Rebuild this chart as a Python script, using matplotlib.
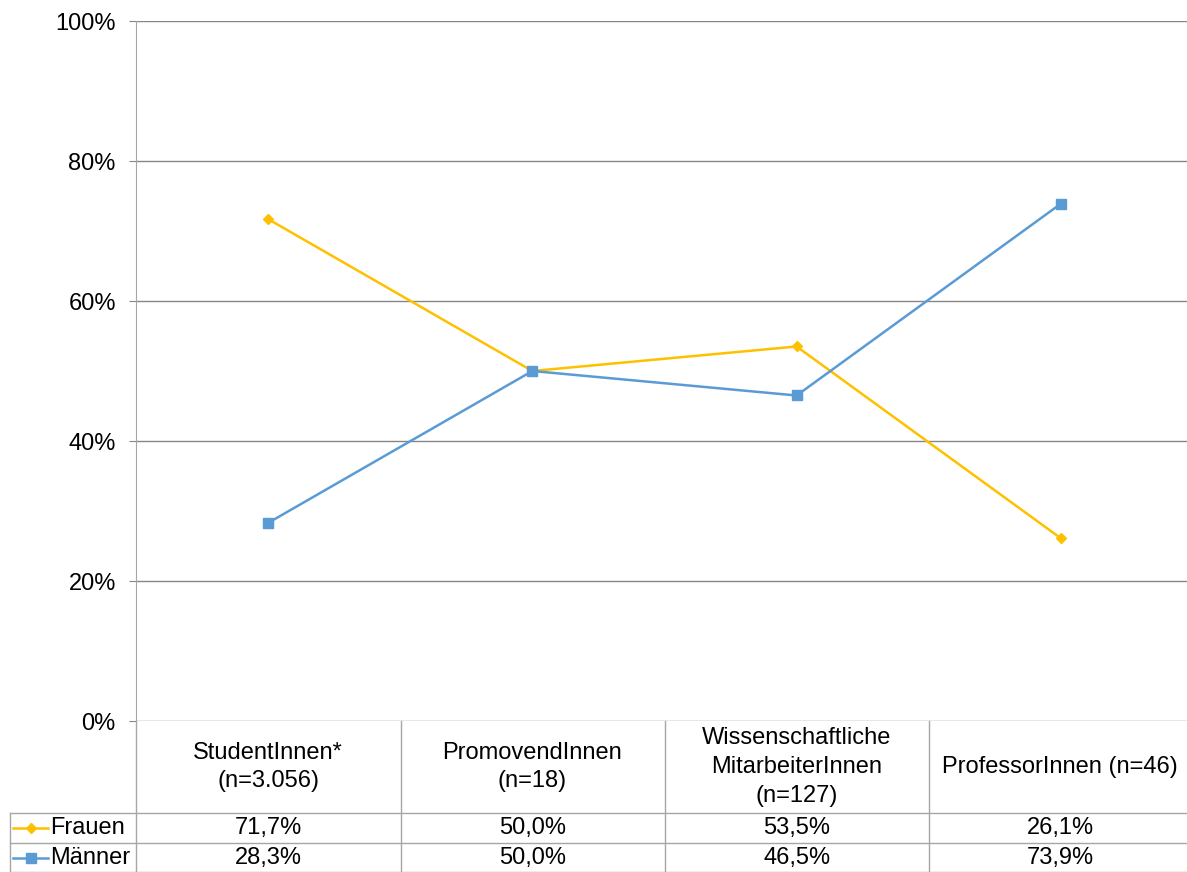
import matplotlib.pyplot as plt
from matplotlib.lines import Line2D

plt.rcParams['font.family'] = ['Liberation Sans', 'DejaVu Sans']

categories = ["StudentInnen*\n(n=3.056)", "PromovendInnen\n(n=18)",
              "Wissenschaftliche\nMitarbeiterInnen\n(n=127)", "ProfessorInnen (n=46)"]
frauen = [71.7, 50.0, 53.5, 26.1]
maenner = [28.3, 50.0, 46.5, 73.9]
yticks = [0, 20, 40, 60, 80, 100]

W, H = 1187, 872
FS = 17
fig = plt.figure(figsize=(W / 100, H / 100), dpi=100)
# plot area runs slightly past the right edge of the canvas
ax = fig.add_axes([136 / W, (H - 721) / H, 1057 / W, 700 / H])

gold = "#FFC000"
blue = "#5B9BD5"
grid_c = "#868686"
line_c = "#A6A6A6"

x = list(range(len(categories)))
ax.plot(x, frauen, color=gold, lw=1.8, marker="D", ms=5, zorder=3)
ax.plot(x, maenner, color=blue, lw=1.8, marker="s", ms=7, zorder=3)

ax.set_xlim(-0.5, len(categories) - 0.5)
ax.set_ylim(0, 100)
ax.set_yticks(yticks)
ax.set_yticklabels([f"{v}%" for v in yticks], fontsize=FS)
ax.yaxis.grid(True, color=grid_c, lw=1)
ax.set_axisbelow(True)
ax.set_xticks([])
for s in ["top", "right", "bottom"]:
    ax.spines[s].set_visible(False)
ax.spines["left"].set_color(line_c)
ax.tick_params(axis="y", length=5, color=grid_c, pad=9.5)

# data table below the plot
def fy(py):
    return (H - py) / H

def fx(px):
    return px / W

lines = []
for px in [136, 401, 665, 929]:
    lines.append(Line2D([fx(px), fx(px)], [fy(721), fy(872)], color=line_c, lw=1))
lines.append(Line2D([fx(10), fx(10)], [fy(813), fy(872)], color=line_c, lw=1))
for py in [813, 843, 871.5]:
    lines.append(Line2D([fx(10), 1], [fy(py), fy(py)], color=line_c, lw=1))
for ln in lines:
    fig.add_artist(ln)

step = 1057 / len(categories)
centers = [136 + (i + 0.5) * step for i in range(len(categories))]
centers[-1] = (929 + W) / 2 + 2
for cx, label in zip(centers, categories):
    fig.text(fx(cx), fy(767), label, ha="center", va="center", fontsize=FS, linespacing=1.4)

for name, vals, color, mk, ms, py in [("Frauen", frauen, gold, "D", 5, 828),
                                      ("Männer", maenner, blue, "s", 7, 858)]:
    fig.add_artist(Line2D([fx(13), fx(30.5), fx(48)], [fy(py)] * 3, color=color, lw=1.8,
                          marker=mk, ms=ms, markevery=[1]))
    fig.text(fx(50), fy(py), name, ha="left", va="center", fontsize=FS)
    for cx, v in zip(centers, vals):
        fig.text(fx(cx), fy(py), f"{v:.1f}%".replace(".", ","), ha="center", va="center", fontsize=FS)

fig.savefig("out.png", dpi=100)
